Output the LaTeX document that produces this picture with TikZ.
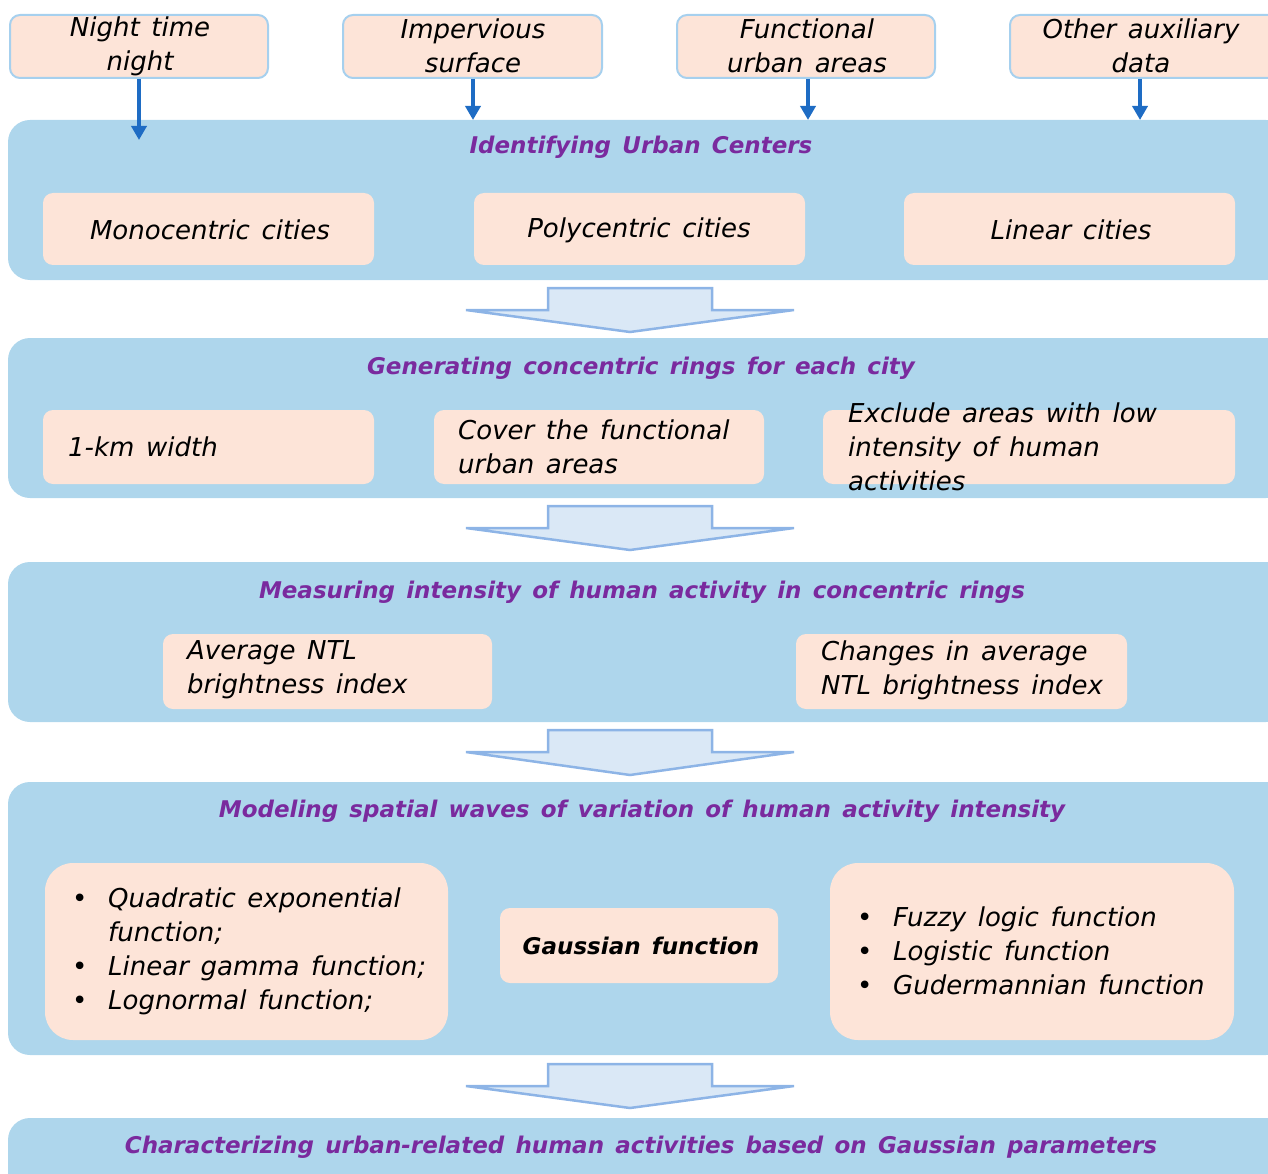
\documentclass[tikz,border=0pt]{standalone}
\usepackage{fontspec}
\setmainfont{DejaVu Sans}[WordSpace=1.4]
\usetikzlibrary{arrows.meta}
\definecolor{panelblue}{HTML}{AED6EC}
\definecolor{peach}{HTML}{FDE4D8}
\definecolor{edgeblue}{HTML}{A6D0EE}
\definecolor{titlepurple}{HTML}{7A2A9E}
\definecolor{arrowblue}{HTML}{1E6CC4}
\definecolor{bigfill}{HTML}{DAE8F6}
\definecolor{bigedge}{HTML}{8DB4E6}
\newcommand{\bodyfont}{\fontsize{26}{34}\selectfont\itshape}
\tikzset{
  panel/.style={fill=panelblue, draw=none, rounded corners=22pt, inner sep=0pt},
  topbox/.style={fill=peach, draw=edgeblue, line width=2pt, rounded corners=10pt, inner sep=0pt},
  innerbox/.style={fill=peach, draw=none, rounded corners=10pt, inner sep=0pt},
  bigbox/.style={fill=peach, draw=none, rounded corners=28pt, inner sep=0pt},
  txt/.style={font=\bodyfont, inner sep=0pt, align=left},
  ctxt/.style={font=\bodyfont, inner sep=0pt, align=center},
  ptitle/.style={font=\fontsize{23}{34}\selectfont\bfseries\itshape, text=titlepurple, inner sep=0pt},
  bluearrow/.style={draw=arrowblue, line width=3.5pt, -{Triangle[length=14pt,width=15pt]}},
  bigarrow/.style={fill=bigfill, draw=bigedge, line width=2.5pt, line join=miter}
}
\newcommand{\bul}{\makebox[36pt][l]{•}}
\begin{document}
\begin{tikzpicture}[x=1pt,y=-1pt]
\useasboundingbox (0,0) rectangle (1268,1174);
\clip (0,0) rectangle (1268,1174);
% top input boxes
\node[topbox, minimum width=258pt, minimum height=63pt] (t1) at (139,46.5) {};
\node[topbox, minimum width=259pt, minimum height=63pt] (t2) at (472.5,46.5) {};
\node[topbox, minimum width=258pt, minimum height=63pt] (t3) at (806,46.5) {};
\node[topbox, minimum width=270pt, minimum height=63pt] (t4) at (1145,46.5) {};
\node[ctxt] (t1t) at (140,46) {Night time\\night};
\node[ctxt] (t2t) at (473,46) {Impervious\\surface};
\node[ctxt] (t3t) at (807,46) {Functional\\urban areas};
\node[ctxt] (t4t) at (1141,46) {Other auxiliary\\data};
% panel 1
\node[panel, minimum width=1280pt, minimum height=160pt] (p1) at (648,200) {};
\coordinate (a1) at (139,140);
\coordinate (a2) at (473,120);
\coordinate (a3) at (808,120);
\coordinate (a4) at (1140,120);
\draw[bluearrow] (t1.south -| a1) -- (a1);
\draw[bluearrow] (t2.south -| a2) -- (a2);
\draw[bluearrow] (t3.south -| a3) -- (a3);
\draw[bluearrow] (t4.south -| a4) -- (a4);
\node[ptitle] (h1) at (641,147) {Identifying Urban Centers};
\node[innerbox, minimum width=331pt, minimum height=72pt] (b11) at (208.5,229) {};
\node[innerbox, minimum width=331pt, minimum height=72pt] (b12) at (639.5,229) {};
\node[innerbox, minimum width=331pt, minimum height=72pt] (b13) at (1069.5,229) {};
\node[ctxt] at (210,230) {Monocentric cities};
\node[ctxt] at (639,230) {Polycentric cities};
\node[ctxt] at (1071,230) {Linear cities};
% big arrow 1
\draw[bigarrow] (548,288) -- (712,288) -- (712,310) -- (794,310) -- (630,332) -- (466,310) -- (548,310) -- cycle;
% panel 2
\node[panel, minimum width=1280pt, minimum height=160pt] (p2) at (648,418) {};
\node[ptitle] (h2) at (641,368) {Generating concentric rings for each city};
\node[innerbox, minimum width=331pt, minimum height=74pt] (b21) at (208.5,447) {};
\node[innerbox, minimum width=330pt, minimum height=74pt] (b22) at (599,447) {};
\node[innerbox, minimum width=412pt, minimum height=74pt] (b23) at (1029,447) {};
\node[txt, anchor=west] at (68,447) {1-km width};
\node[txt, anchor=west] at (458,447) {Cover the functional\\urban areas};
\node[txt, anchor=west] at (848,447) {Exclude areas with low\\intensity of human\\activities};
% big arrow 2
\draw[bigarrow] (548,506) -- (712,506) -- (712,528) -- (794,528) -- (630,550) -- (466,528) -- (548,528) -- cycle;
% panel 3
\node[panel, minimum width=1280pt, minimum height=160pt] (p3) at (648,642) {};
\node[ptitle] (h3) at (642,592) {Measuring intensity of human activity in concentric rings};
\node[innerbox, minimum width=329pt, minimum height=75pt] (b31) at (327.5,671.5) {};
\node[innerbox, minimum width=331pt, minimum height=75pt] (b32) at (961.5,671.5) {};
\node[txt, anchor=west] at (187,670) {Average NTL\\brightness index};
\node[txt, anchor=west] at (821,670) {Changes in average\\NTL brightness index};
% big arrow 3
\draw[bigarrow] (548,730) -- (712,730) -- (712,752) -- (794,752) -- (630,775) -- (466,752) -- (548,752) -- cycle;
% panel 4
\node[panel, minimum width=1280pt, minimum height=273pt] (p4) at (648,918.5) {};
\node[ptitle] (h4) at (642,811) {Modeling spatial waves of variation of human activity intensity};
\node[bigbox, minimum width=403pt, minimum height=177pt] (b41) at (246.5,951.5) {};
\node[innerbox, minimum width=278pt, minimum height=75pt] (b42) at (639,945.5) {};
\node[bigbox, minimum width=404pt, minimum height=177pt] (b43) at (1032,951.5) {};
\node[txt, anchor=west] at (72,951) {\bul Quadratic exponential\\\hspace*{36pt}function;\\\bul Linear gamma function;\\\bul Lognormal function;};
\node[ctxt, font=\fontsize{23}{34}\selectfont\bfseries\itshape] at (641,946) {Gaussian function};
\node[txt, anchor=west] at (857,951) {\bul Fuzzy logic function\\\bul Logistic function\\\bul Gudermannian function};
% big arrow 4
\draw[bigarrow] (548,1064) -- (712,1064) -- (712,1086) -- (794,1086) -- (630,1108) -- (466,1086) -- (548,1086) -- cycle;
% panel 5
\node[panel, minimum width=1280pt, minimum height=120pt] (p5) at (648,1178) {};
\node[ptitle] (h5) at (641,1147) {Characterizing urban-related human activities based on Gaussian parameters};
\end{tikzpicture}
\end{document}
